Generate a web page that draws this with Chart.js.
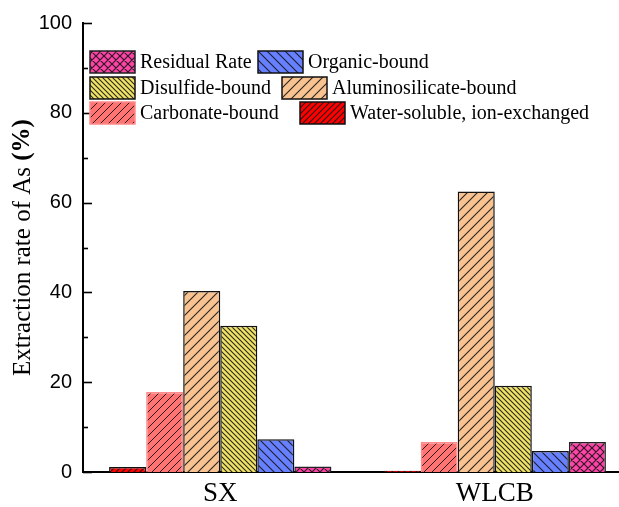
<!DOCTYPE html>
<html>
<head>
<meta charset="utf-8">
<script src="https://cdn.jsdelivr.net/npm/chart.js@4.4.1/dist/chart.umd.min.js"></script>
<style>
  html, body { margin: 0; padding: 0; overflow: hidden; background: #fff; }
  #wrap { width: 619px; height: 507px; overflow: hidden; }
  canvas { display: block; }
</style>
</head>
<body>
<div id="wrap"><canvas id="c" width="632" height="507"></canvas></div>
<script>
// Arsenic speciation: extraction rate (%) per fraction for two samples
const categories = ['SX', 'WLCB'];
const waterSoluble = [1.1, 0.3];
const carbonateBound = [17.8, 6.7];
const aluminosilicateBound = [40.3, 62.5];
const disulfideBound = [32.6, 19.2];
const organicBound = [7.3, 4.7];
const residualRate = [1.2, 6.7];
const yTicks = [0, 20, 40, 60, 80, 100];

const SERIF = "'Liberation Serif', 'Times New Roman', serif";
const SANS = "'Liberation Sans', Arial, sans-serif";

// Hatch fill built on a small repeating tile
function hatch(bg, size, dir, lw) {
  const c = document.createElement('canvas');
  c.width = c.height = size;
  const g = c.getContext('2d');
  g.fillStyle = bg;
  g.fillRect(0, 0, size, size);
  g.strokeStyle = 'rgba(20,20,20,0.9)';
  g.lineWidth = lw;
  g.beginPath();
  if (dir === '/' || dir === 'x') {
    g.moveTo(0, size); g.lineTo(size, 0);
    g.moveTo(-1, 1); g.lineTo(1, -1);
    g.moveTo(size - 1, size + 1); g.lineTo(size + 1, size - 1);
  }
  if (dir === '\\' || dir === 'x') {
    g.moveTo(0, 0); g.lineTo(size, size);
    g.moveTo(-1, size - 1); g.lineTo(1, size + 1);
    g.moveTo(size - 1, -1); g.lineTo(size + 1, 1);
  }
  g.stroke();
  return g.createPattern(c, 'repeat');
}

const series = [
  { label: 'Water-soluble, ion-exchanged', data: waterSoluble, fill: hatch('#ff0000', 6, '/', 1.1), border: '#111' },
  { label: 'Carbonate-bound', data: carbonateBound, fill: hatch('#ff7373', 8, '/', 1), border: '#ff8a8a' },
  { label: 'Aluminosilicate-bound', data: aluminosilicateBound, fill: hatch('#f8c291', 10, '/', 1.1), border: '#111' },
  { label: 'Disulfide-bound', data: disulfideBound, fill: hatch('#f0e264', 5, '\\', 1.1), border: '#111' },
  { label: 'Organic-bound', data: organicBound, fill: hatch('#6680ff', 9, '\\', 1.1), border: '#111' },
  { label: 'Residual Rate', data: residualRate, fill: hatch('#ff44a8', 8, 'x', 1.2), border: '#222' }
];

// Legend cells: [series index, box x, row y]
const legendCells = [
  [5, 90, 51], [4, 258, 51],
  [3, 90, 77], [2, 282, 77],
  [1, 90, 102], [0, 300, 102]
];

const extras = {
  id: 'extras',
  afterDraw(chart) {
    const ctx = chart.ctx;
    const y = chart.scales.y;
    const area = chart.chartArea;
    ctx.save();
    // inward tick marks on the value axis
    ctx.strokeStyle = '#000';
    ctx.lineWidth = 1.6;
    for (let v = 0; v <= 100; v += 10) {
      const py = Math.round(y.getPixelForValue(v)) + 0.5;
      const len = v % 20 === 0 ? 9 : 5;
      ctx.beginPath();
      ctx.moveTo(area.left, py);
      ctx.lineTo(area.left + len, py);
      ctx.stroke();
    }
    // axis title with bold unit
    ctx.translate(23, (area.top + area.bottom) / 2);
    ctx.rotate(-Math.PI / 2);
    ctx.textBaseline = 'middle';
    ctx.fillStyle = '#000';
    const t1 = 'Extraction rate of As ';
    const t2 = '(%)';
    ctx.font = '25px ' + SERIF;
    const w1 = ctx.measureText(t1).width;
    ctx.font = 'bold 25px ' + SERIF;
    const w2 = ctx.measureText(t2).width;
    const x0 = -(w1 + w2) / 2;
    ctx.font = '25px ' + SERIF;
    ctx.textAlign = 'left';
    ctx.fillText(t1, x0, 0);
    ctx.font = 'bold 25px ' + SERIF;
    ctx.fillText(t2, x0 + w1, 0);
    ctx.restore();

    // legend
    ctx.save();
    ctx.font = '20px ' + SERIF;
    ctx.textBaseline = 'middle';
    legendCells.forEach(([i, bx, by]) => {
      const s = series[i];
      ctx.fillStyle = s.fill;
      ctx.fillRect(bx, by, 45, 22);
      ctx.strokeStyle = s.border;
      ctx.lineWidth = 1.5;
      ctx.strokeRect(bx, by, 45, 22);
      ctx.fillStyle = '#000';
      ctx.fillText(s.label, bx + 50, by + 12);
    });
    ctx.restore();
  }
};

new Chart(document.getElementById('c'), {
  type: 'bar',
  data: {
    labels: categories,
    datasets: series.map(s => ({
      label: s.label,
      data: s.data,
      backgroundColor: s.fill,
      borderColor: s.border,
      borderWidth: 1.5,
      categoryPercentage: 0.81,
      barPercentage: 1
    }))
  },
  options: {
    responsive: false,
    animation: false,
    layout: { padding: { top: 23, right: 0, bottom: 0, left: 0 } },
    plugins: { legend: { display: false }, tooltip: { enabled: false } },
    scales: {
      x: {
        grid: { display: false, drawTicks: false },
        border: { display: true, color: '#000', width: 2 },
        ticks: { color: '#000', font: { family: SERIF, size: 27 }, padding: 6 },
        afterFit(s) { s.height = 35; }
      },
      y: {
        min: 0,
        max: 100,
        afterBuildTicks(s) { s.ticks = yTicks.map(v => ({ value: v })); },
        grid: { display: false, drawTicks: false },
        border: { display: true, color: '#000', width: 2 },
        ticks: { color: '#000', font: { family: SANS, size: 20 }, padding: 11 },
        afterFit(s) { s.width = 83; }
      }
    }
  },
  plugins: [extras]
});
</script>
</body>
</html>
